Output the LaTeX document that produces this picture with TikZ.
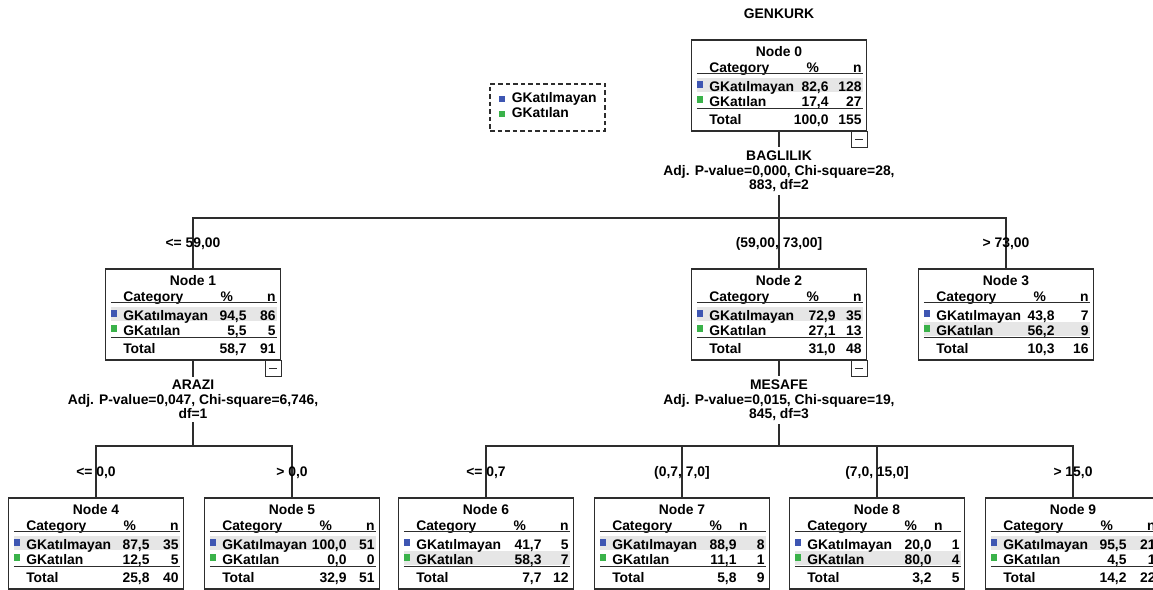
\documentclass[tikz,border=0pt]{standalone}
\usepackage{fontspec}
\setmainfont{Liberation Sans}
\usetikzlibrary{calc,positioning}

\definecolor{catblue}{RGB}{62,86,178}
\definecolor{catgreen}{RGB}{58,178,74}
\definecolor{rowgray}{RGB}{230,230,230}
\definecolor{linegray}{RGB}{45,45,45}

\tikzset{
  pcol/.store in=\pcol, pcol=142,
  nhead/.store in=\nhead, nhead=171,
  statframe/.style={draw=linegray,line width=0.7pt,minimum width=3.5cm,
    minimum height=1.82cm,inner sep=0pt},
  celltext/.style={inner sep=0pt,font=\fontsize{7.9}{8.5}\selectfont\bfseries},
  splittext/.style={celltext,align=center,inner sep=1.5pt},
  cond/.style={celltext,anchor=base},
  rule/.style={draw=linegray,line width=0.6pt},
  link/.style={draw=linegray,line width=0.6pt},
  legendframe/.style={draw=linegray,line width=0.6pt,
    dash pattern=on 2.6pt off 1.7pt,minimum width=2.3cm,minimum height=0.94cm}
}

% one SPSS style node table: [keys]{number}{x,y}{%1}{n1}{%2}{n2}{%tot}{ntot}
\newcommand{\statbox}[9][]{%
  \begin{scope}[#1]
  \node[statframe] (n#2) at (#3) {};
  \ifnum#5>#7
    \fill[rowgray] ($(n#2.north west)+(6,39)$) rectangle ($(n#2.north west)+(172,53)$);
  \else
    \fill[rowgray] ($(n#2.north west)+(6,54)$) rectangle ($(n#2.north west)+(172,68)$);
  \fi
  \node[celltext,anchor=base] (n#2-title) at ($(n#2.north)+(0,17)$) {Node #2};
  \node[celltext,anchor=base west] (n#2-cat) at ($(n#2.north west)+(18,33)$) {Category};
  \node[celltext,anchor=base] (n#2-pct) at ($(n#2.north west)+(122,33)$) {\%};
  \node[celltext,anchor=base east] (n#2-n) at ($(n#2.north west)+(\nhead,33)$) {n};
  \draw[rule] ($(n#2.north west)+(6,34)$) -- ++(166,0);
  \fill[catblue] ($(n#2.north west)+(6,42)$) rectangle ++(6,7);
  \node[celltext,anchor=base west] (n#2-a) at ($(n#2.north west)+(18,52)$) {GKatılmayan};
  \node[celltext,anchor=base east] (n#2-ap) at ($(n#2.north west)+(\pcol,52)$) {#4};
  \node[celltext,anchor=base east] (n#2-an) at ($(n#2.north west)+(171,52)$) {#5};
  \fill[catgreen] ($(n#2.north west)+(6,57)$) rectangle ++(6,7);
  \node[celltext,anchor=base west] (n#2-b) at ($(n#2.north west)+(18,67)$) {GKatılan};
  \node[celltext,anchor=base east] (n#2-bp) at ($(n#2.north west)+(\pcol,67)$) {#6};
  \node[celltext,anchor=base east] (n#2-bn) at ($(n#2.north west)+(171,67)$) {#7};
  \draw[rule] ($(n#2.north west)+(6,69)$) -- ++(166,0);
  \node[celltext,anchor=base west] (n#2-t) at ($(n#2.north west)+(18,85)$) {Total};
  \node[celltext,anchor=base east] (n#2-tp) at ($(n#2.north west)+(\pcol,85)$) {#8};
  \node[celltext,anchor=base east] (n#2-tn) at ($(n#2.north west)+(171,85)$) {#9};
  \end{scope}}

% the small collapse box under a split node
\newcommand{\minusbox}[1]{%
  \draw[rule] ($(#1.south east)+(-16,0)$) rectangle ($(#1.south east)+(0,16)$);
  \draw[rule] ($(#1.south east)+(-12,8)$) -- ($(#1.south east)+(-4,8)$);}

\begin{document}
\begin{tikzpicture}[x=0.02cm,y=-0.02cm]
  \useasboundingbox (0,0) rectangle (1153,590);

  \node[celltext,anchor=base] (title) at (779,19) {GENKURK};

  % legend
  \node[legendframe] (lg) at (547.5,107.5) {};
  \fill[catblue] ($(lg.north west)+(10,13)$) rectangle ++(6,6);
  \node[celltext,anchor=base west] (lg-a) at ($(lg.north west)+(22,19)$) {GKatılmayan};
  \fill[catgreen] ($(lg.north west)+(10,28)$) rectangle ++(6,6);
  \node[celltext,anchor=base west] (lg-b) at ($(lg.north west)+(22,34)$) {GKatılan};

  % tables
  \statbox[pcol=138]{0}{779,85.5}{82,6}{128}{17,4}{27}{100,0}{155}
  \statbox{1}{193,314.5}{94,5}{86}{5,5}{5}{58,7}{91}
  \statbox[pcol=145]{2}{779,314.5}{72,9}{35}{27,1}{13}{31,0}{48}
  \statbox[pcol=137]{3}{1006,314.5}{43,8}{7}{56,2}{9}{10,3}{16}
  \statbox{4}{96,543.5}{87,5}{35}{12,5}{5}{25,8}{40}
  \statbox[pcol=143]{5}{292,543.5}{100,0}{51}{0,0}{0}{32,9}{51}
  \statbox[pcol=144]{6}{486,543.5}{41,7}{5}{58,3}{7}{7,7}{12}
  \statbox[pcol=143,nhead=154]{7}{682,543.5}{88,9}{8}{11,1}{1}{5,8}{9}
  \statbox[pcol=143,nhead=154]{8}{877,543.5}{20,0}{1}{80,0}{4}{3,2}{5}
  \statbox{9}{1073,543.5}{95,5}{21}{4,5}{1}{14,2}{22}

  \minusbox{n0}
  \minusbox{n1}
  \minusbox{n2}

  % split labels (base = last line)
  \node[splittext,anchor=base] (s0) at (779,190)
    {BAGLILIK\\Adj. P-value=0,000, Chi-square=28,\\883, df=2};
  \node[splittext,anchor=base] (s1) at (193,419)
    {ARAZI\\Adj. P-value=0,047, Chi-square=6,746,\\df=1};
  \node[splittext,anchor=base] (s2) at (779,419)
    {MESAFE\\Adj. P-value=0,015, Chi-square=19,\\845, df=3};

  % connectors
  \coordinate (b0) at (779,218);
  \coordinate (b1) at (193,446);
  \coordinate (b2) at (779,446);
  \draw[link] (n0.south) -- (s0.north);
  \draw[link] (s0.south) -- (b0);
  \draw[link] (n1.north) |- (b0) -| (n3.north);
  \draw[link] (b0) -- (n2.north);
  \draw[link] (n1.south) -- (s1.north);
  \draw[link] (s1.south) -- (b1);
  \draw[link] (n4.north) |- (b1) -| (n5.north);
  \draw[link] (n2.south) -- (s2.north);
  \draw[link] (s2.south) -- (b2);
  \draw[link] (n6.north) |- (b2) -| (n9.north);
  \draw[link] (n7.north) |- (b2);
  \draw[link] (n8.north) |- (b2);

  % branch conditions
  \node[cond] (c1) at (193,248) {<= 59,00};
  \node[cond] (c2) at (779,248) {(59,00, 73,00]};
  \node[cond] (c3) at (1006,248) {> 73,00};
  \node[cond] (c4) at (96,477) {<= 0,0};
  \node[cond] (c5) at (292,477) {> 0,0};
  \node[cond] (c6) at (486,477) {<= 0,7};
  \node[cond] (c7) at (682,477) {(0,7, 7,0]};
  \node[cond] (c8) at (877,477) {(7,0, 15,0]};
  \node[cond] (c9) at (1073,477) {> 15,0};
\end{tikzpicture}
\end{document}
